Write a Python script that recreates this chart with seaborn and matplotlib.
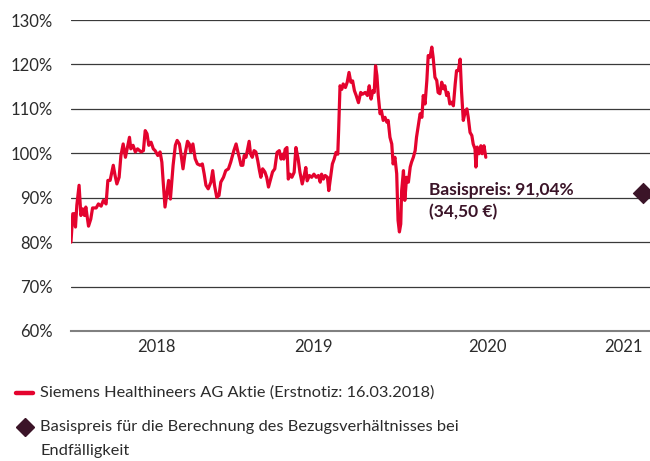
import pandas as pd
import matplotlib
matplotlib.use("Agg")
import matplotlib.pyplot as plt
from matplotlib.lines import Line2D
import seaborn as sns

start = pd.Timestamp("2018-03-16")

# Kalendertage nach der Erstnotiz und Kurs in %
days = [0, 4, 7, 10, 13, 18, 22, 26, 30, 33, 39, 44, 48, 56, 61, 67, 72, 78, 82, 87,
        91, 94, 98, 102, 107, 111, 116, 121, 124, 130, 133, 138, 143, 148, 156, 161, 165, 169, 173, 178,
        183, 187, 193, 198, 202, 205, 209, 213, 217, 221, 225, 227, 232, 236, 241, 245, 249, 253, 259, 263,
        266, 271, 276, 281, 287, 292, 296, 300, 305, 311, 315, 319, 324, 329, 333, 339, 344, 350, 355, 359,
        362, 367, 371, 374, 378, 382, 385, 389, 392, 396, 399, 403, 407, 411, 415, 419, 422, 426, 431, 435,
        439, 444, 448, 453, 458, 463, 467, 471, 473, 476, 480, 483, 487, 491, 496, 500, 505, 509, 514, 519,
        522, 525, 530, 535, 540, 545, 550, 554, 557, 561, 565, 570, 573, 577, 581, 585, 589, 593, 595, 598,
        602, 605, 610, 614, 618, 622, 626, 630, 634, 639, 644, 648, 654, 659, 663, 667, 671, 674, 677, 680,
        683, 687, 690, 694, 698, 702, 705, 709, 713, 716, 720, 724, 727, 730, 733, 735, 739, 742, 746, 750,
        754, 757, 761, 765, 768, 772, 776, 780, 783, 787, 791, 794, 798, 802, 805, 809, 813, 816, 820, 824,
        828, 831, 835, 838, 842, 846, 850, 854, 857, 861, 865, 868, 872, 876, 880, 883, 887, 891, 894, 898,
        900, 903, 907, 911, 914, 918, 922]
kurs = [80.0, 86.4, 86.4, 83.4, 88.3, 92.8, 86.0, 87.5, 86.0, 87.9, 83.6, 85.2, 87.7, 87.7, 88.6, 88.1, 89.4, 88.6, 93.9, 93.9,
        95.8, 97.3, 95.0, 93.1, 94.6, 99.5, 102.1, 99.1, 100.6, 103.6, 101.0, 101.8, 100.3, 101.0, 100.3, 100.6, 105.1, 104.4, 101.8, 102.5,
        101.0, 100.6, 99.5, 100.3, 98.0, 93.5, 87.9, 90.9, 93.9, 89.7, 94.6, 97.3, 101.8, 102.9, 102.1, 99.5, 96.5, 99.5, 102.7, 102.1,
        100.3, 102.1, 98.8, 97.6, 97.3, 97.6, 95.4, 92.8, 92.0, 93.5, 96.1, 92.8, 90.1, 90.5, 93.5, 94.6, 96.1, 96.5, 98.0, 99.5,
        100.6, 102.1, 100.3, 99.1, 97.3, 97.3, 99.5, 99.1, 100.6, 102.7, 99.9, 99.1, 100.6, 100.3, 98.4, 96.1, 94.6, 96.5, 95.8, 94.6,
        92.4, 94.3, 95.8, 96.5, 100.2, 100.6, 98.7, 99.8, 98.7, 100.9, 101.3, 94.2, 95.3, 94.6, 95.7, 101.3, 98.7, 95.7, 93.1, 95.3,
        96.8, 93.8, 95.0, 94.6, 95.3, 94.6, 95.0, 93.5, 95.3, 94.2, 95.0, 94.6, 91.6, 94.6, 97.6, 98.7, 100.2, 99.8, 105.4, 115.2,
        114.4, 115.6, 114.8, 116.0, 118.2, 116.0, 116.3, 114.1, 113.0, 111.4, 113.7, 113.3, 113.7, 113.0, 115.2, 112.2, 114.1, 113.7, 119.7, 117.5,
        113.0, 108.9, 109.6, 107.4, 108.1, 107.0, 107.4, 103.6, 102.1, 97.6, 99.1, 95.4, 84.9, 82.3, 84.1, 91.6, 96.1, 89.4, 94.6, 93.5,
        96.9, 98.0, 99.1, 100.6, 103.6, 106.2, 108.9, 108.1, 113.0, 111.1, 116.4, 122.0, 121.6, 123.9, 121.6, 117.1, 116.4, 113.7, 113.4, 116.0,
        114.5, 115.2, 113.0, 113.7, 111.1, 111.5, 110.7, 115.6, 118.6, 118.6, 121.2, 114.1, 107.4, 109.2, 110.0, 108.1, 104.7, 104.0, 102.1, 101.0,
        96.9, 101.4, 99.9, 101.7, 99.9, 101.7, 99.1]

basis_tag = 1271
basis_wert = 91.04

tick_days = [0, 365, 730, 1096]
label_days = [191, 540, 925, 1229]
year_labels = ["2018", "2019", "2020", "2021"]
y_ticks = [60, 70, 80, 90, 100, 110, 120, 130]

red = "#E4032E"
dark = "#3B1428"
txt = "#2b2b2b"

sns.set_theme(style="white")
plt.rcParams["font.family"] = ["Lato", "DejaVu Sans"]

df = pd.DataFrame({"datum": start + pd.to_timedelta(days, unit="D"), "kurs": kurs})
basis = pd.DataFrame({"datum": [start + pd.Timedelta(days=basis_tag)], "kurs": [basis_wert]})

fig = plt.figure(figsize=(6.5, 4.61), dpi=100)
ax = fig.add_axes([0.1092, 0.282, 0.8908, 0.6746])

sns.lineplot(data=df, x="datum", y="kurs", ax=ax, color=red, lw=2.3, zorder=3)
sns.scatterplot(data=basis, x="datum", y="kurs", ax=ax, marker="D", s=105,
                color=dark, edgecolor=dark, zorder=4)

ax.set_ylim(60, 130)
ax.set_xlim(start, start + pd.Timedelta(days=1287))
ax.set_yticks(y_ticks)
ax.set_yticklabels([f"{v}%" for v in y_ticks])
ax.yaxis.grid(True, color="#3a3a3a", lw=0.9)
ax.set_axisbelow(True)

ax.set_xticks([start + pd.Timedelta(days=d) for d in tick_days])
ax.set_xticklabels([])
ax.set_xticks([start + pd.Timedelta(days=d) for d in label_days], minor=True)
ax.set_xticklabels(year_labels, minor=True)
ax.tick_params(axis="x", which="major", length=3.5, width=1, color="#808080", direction="out")
ax.tick_params(axis="x", which="minor", length=0, pad=6, labelsize=12, labelcolor=txt)
ax.tick_params(axis="y", length=0, pad=13, labelsize=12, labelcolor=txt)
ax.set_xlabel("")
ax.set_ylabel("")

for s in ["left", "right", "top"]:
    ax.spines[s].set_visible(False)
ax.spines["bottom"].set_color("#808080")
ax.spines["bottom"].set_linewidth(1.5)

ax.text(start + pd.Timedelta(days=795), 93.6, "Basispreis: 91,04%\n(34,50 €)",
        fontsize=12.5, fontweight="bold", color=dark, va="top", ha="left",
        linespacing=1.45, zorder=5)

# Legende
W, H = 650, 461
fig.add_artist(Line2D([16 / W, 33 / W], [1 - 393 / H, 1 - 393 / H], color=red, lw=3.2))
fig.add_artist(Line2D([25 / W], [1 - 427 / H], marker="D", ms=9.5, color=dark, lw=0))
fig.text(40 / W, 1 - 393 / H, "Siemens Healthineers AG Aktie (Erstnotiz: 16.03.2018)",
         fontsize=11.8, color=txt, va="center", ha="left")
fig.text(40 / W, 1 - 427 / H, "Basispreis für die Berechnung des Bezugsverhältnisses bei",
         fontsize=11.8, color=txt, va="center", ha="left")
fig.text(40 / W, 1 - 451 / H, "Endfälligkeit",
         fontsize=11.8, color=txt, va="center", ha="left")

fig.savefig("out.png", dpi=100)
